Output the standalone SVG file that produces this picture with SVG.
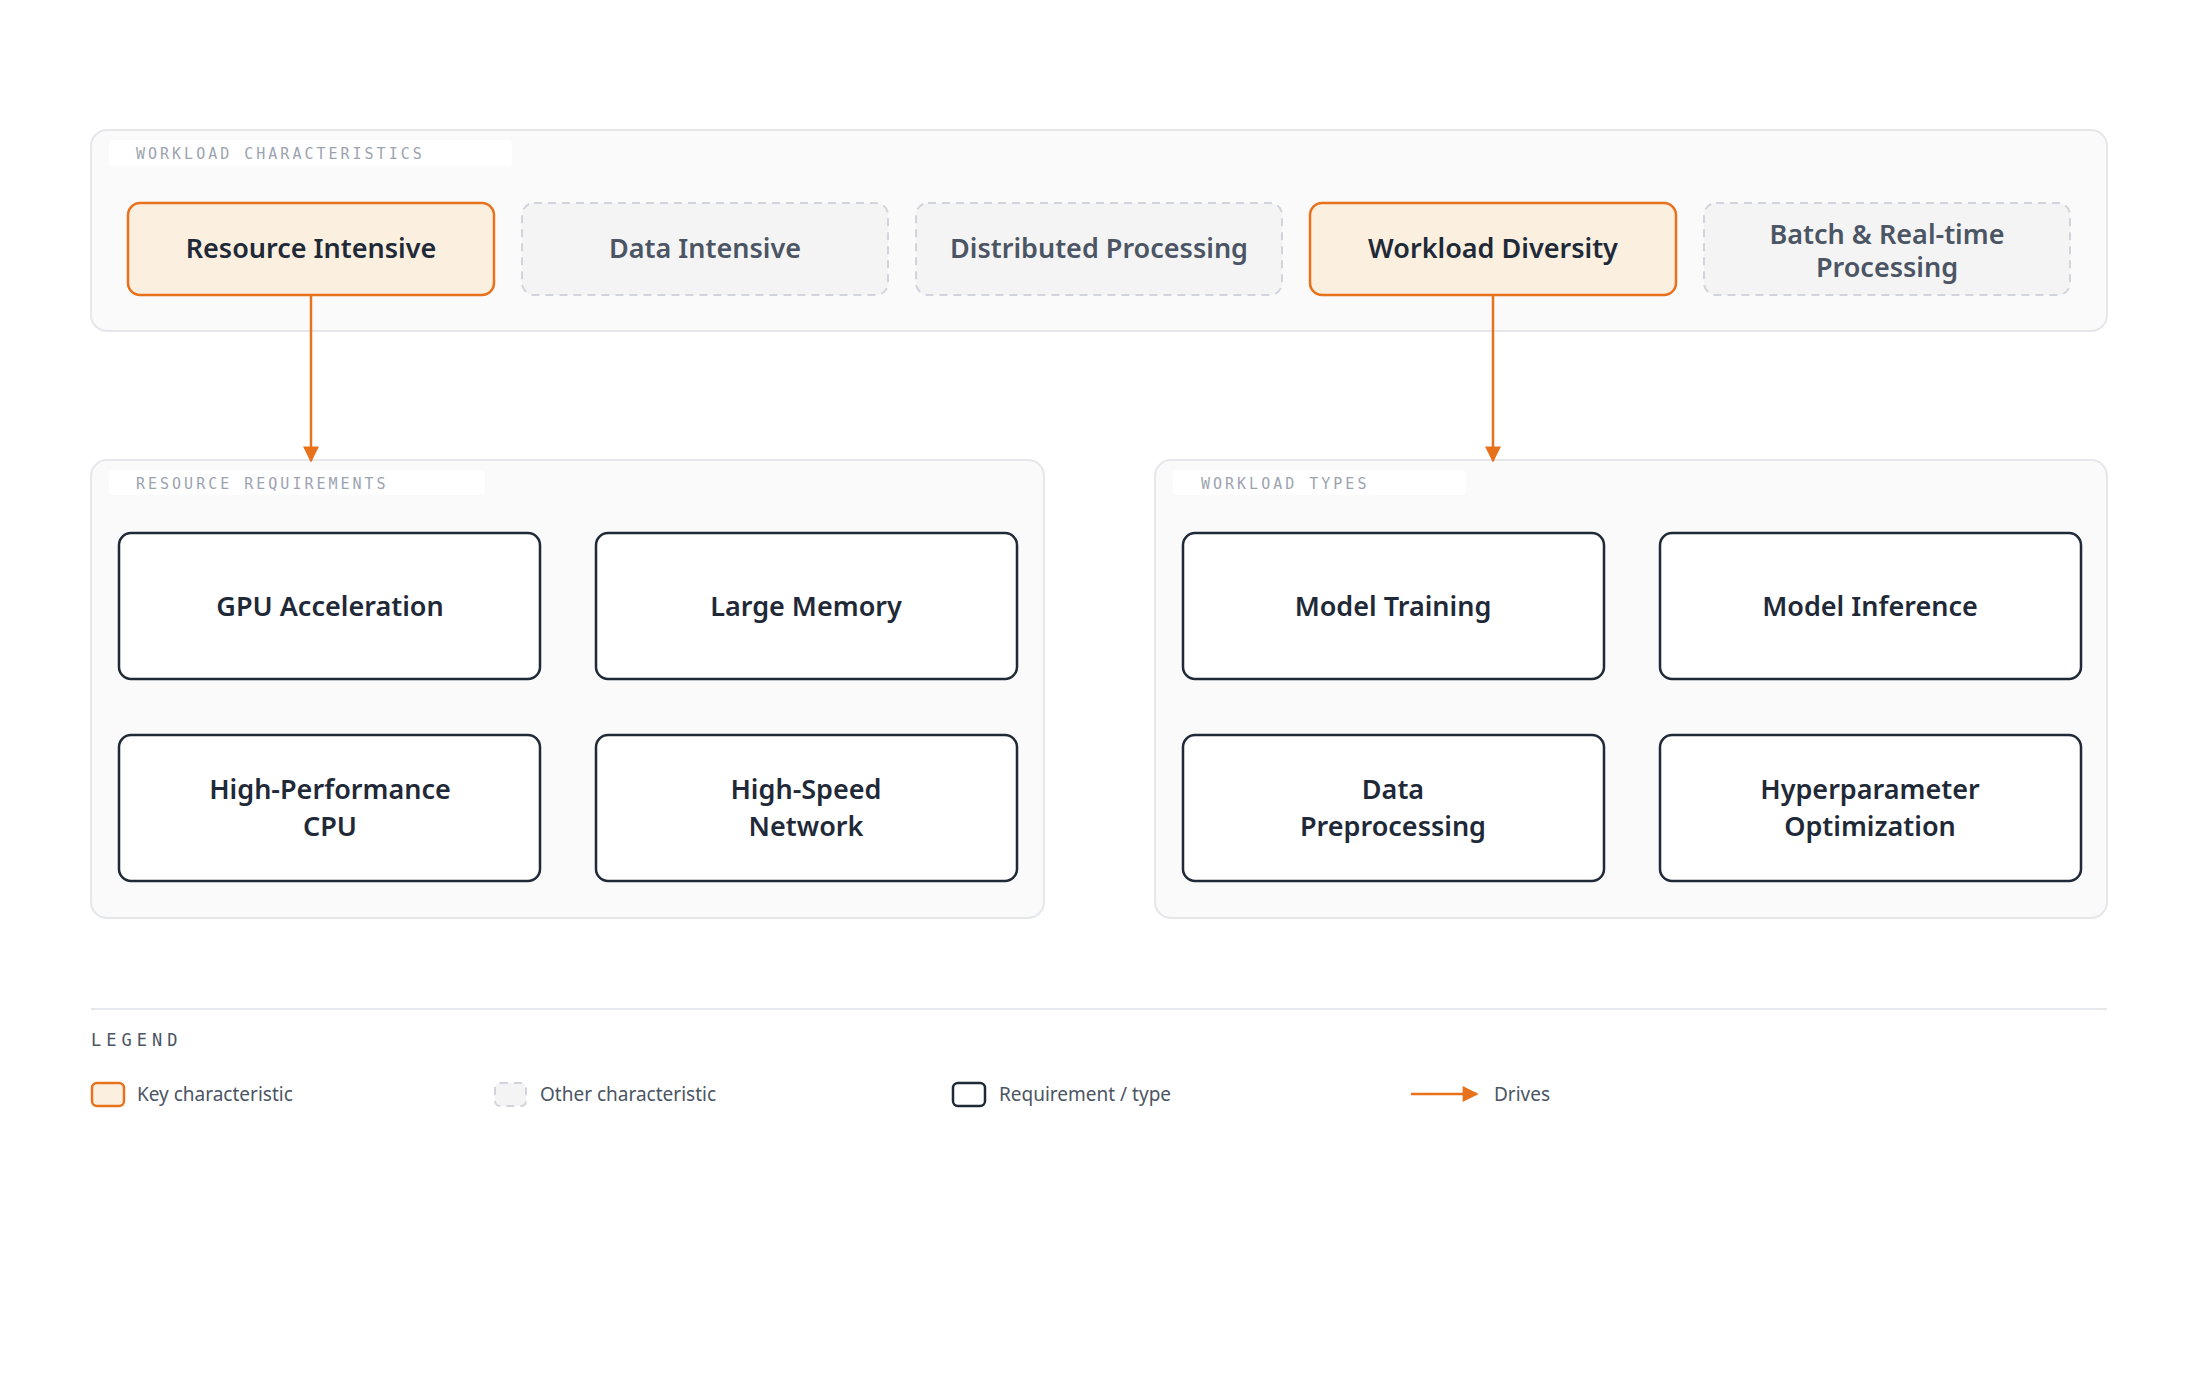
<svg xmlns="http://www.w3.org/2000/svg" width="2200" height="1378" viewBox="0 0 2200 1378">
<defs>
<marker id="ah" viewBox="0 0 10 10" refX="9" refY="5" markerWidth="20" markerHeight="16" markerUnits="userSpaceOnUse" orient="auto"><path d="M0,0 L10,5 L0,10 z" fill="#e8711c"/></marker>
<style>
.cont{fill:#fafafa;stroke:#e5e7eb;stroke-width:2}
.chip{fill:#ffffff}
.sec{font-family:"DejaVu Sans Mono","Liberation Mono",monospace;font-size:15px;letter-spacing:3px;fill:#9ca3af}
.key{fill:#fbf0e0;stroke:#e8711c;stroke-width:2.5}
.oth{fill:#f4f4f5;stroke:#d1d5db;stroke-width:2;stroke-dasharray:8 6}
.req{fill:#ffffff;stroke:#1f2937;stroke-width:2.5}
.t{font-family:"Noto Sans","Open Sans",sans-serif;font-size:27px;font-weight:600;text-anchor:middle}
.dk{fill:#1f2937}
.gy{fill:#4b5563}
.lg{font-family:"Noto Sans","Open Sans",sans-serif;font-size:19px;fill:#4b5563}
.conn{stroke:#e8711c;stroke-width:2.5;fill:none}
</style>
</defs>
<rect width="2200" height="1378" fill="#ffffff"/>
<g id="workload-characteristics">
<rect class="cont" x="91" y="130" width="2016" height="201" rx="16"/>
<rect class="chip" x="109" y="140" width="403" height="26" rx="4"/>
<text class="sec" x="136" y="159">WORKLOAD CHARACTERISTICS</text>
</g>
<g id="resource-intensive"><rect class="key" x="128" y="203" width="366" height="92" rx="12"/><text class="t dk" x="311" y="258">Resource Intensive</text></g>
<g id="data-intensive"><rect class="oth" x="522" y="203" width="366" height="92" rx="12"/><text class="t gy" x="705" y="258">Data Intensive</text></g>
<g id="distributed-processing"><rect class="oth" x="916" y="203" width="366" height="92" rx="12"/><text class="t gy" x="1099" y="258">Distributed Processing</text></g>
<g id="workload-diversity"><rect class="key" x="1310" y="203" width="366" height="92" rx="12"/><text class="t dk" x="1493" y="258">Workload Diversity</text></g>
<g id="batch-realtime"><rect class="oth" x="1704" y="203" width="366" height="92" rx="12"/><text class="t gy" x="1887" y="244">Batch &amp; Real-time</text><text class="t gy" x="1887" y="277">Processing</text></g>

<g id="resource-requirements">
<rect class="cont" x="91" y="460" width="953" height="458" rx="16"/>
<rect class="chip" x="109" y="470" width="376" height="25" rx="4"/>
<text class="sec" x="136" y="489">RESOURCE REQUIREMENTS</text>
</g>
<g id="workload-types">
<rect class="cont" x="1155" y="460" width="952" height="458" rx="16"/>
<rect class="chip" x="1173" y="470" width="293" height="25" rx="4"/>
<text class="sec" x="1201" y="489">WORKLOAD TYPES</text>
</g>
<g id="gpu"><rect class="req" x="119" y="533" width="421" height="146" rx="12"/><text class="t dk" x="330" y="616">GPU Acceleration</text></g>
<g id="memory"><rect class="req" x="596" y="533" width="421" height="146" rx="12"/><text class="t dk" x="806" y="616">Large Memory</text></g>
<g id="cpu"><rect class="req" x="119" y="735" width="421" height="146" rx="12"/><text class="t dk" x="330" y="799">High-Performance</text><text class="t dk" x="330" y="836">CPU</text></g>
<g id="network"><rect class="req" x="596" y="735" width="421" height="146" rx="12"/><text class="t dk" x="806" y="799">High-Speed</text><text class="t dk" x="806" y="836">Network</text></g>
<g id="training"><rect class="req" x="1183" y="533" width="421" height="146" rx="12"/><text class="t dk" x="1393" y="616">Model Training</text></g>
<g id="inference"><rect class="req" x="1660" y="533" width="421" height="146" rx="12"/><text class="t dk" x="1870" y="616">Model Inference</text></g>
<g id="preprocessing"><rect class="req" x="1183" y="735" width="421" height="146" rx="12"/><text class="t dk" x="1393" y="799">Data</text><text class="t dk" x="1393" y="836">Preprocessing</text></g>
<g id="hpo"><rect class="req" x="1660" y="735" width="421" height="146" rx="12"/><text class="t dk" x="1870" y="799">Hyperparameter</text><text class="t dk" x="1870" y="836">Optimization</text></g>

<g id="connectors">
<line class="conn" x1="311" y1="296" x2="311" y2="461" marker-end="url(#ah)"/>
<line class="conn" x1="1493" y1="296" x2="1493" y2="461" marker-end="url(#ah)"/>
</g>

<g id="legend">
<line x1="91" y1="1009" x2="2107" y2="1009" stroke="#e5e7eb" stroke-width="2"/>
<text x="91" y="1046" font-family="DejaVu Sans Mono, Liberation Mono, monospace" font-size="17" letter-spacing="5" fill="#4b5563">LEGEND</text>
<rect class="key" x="92" y="1083" width="32" height="23" rx="5"/>
<text class="lg" x="137" y="1101">Key characteristic</text>
<rect class="oth" x="495" y="1083" width="31" height="23" rx="5" stroke-dasharray="6 5"/>
<text class="lg" x="540" y="1101">Other characteristic</text>
<rect class="req" x="953" y="1083" width="32" height="23" rx="5"/>
<text class="lg" x="999" y="1101">Requirement / type</text>
<line class="conn" x1="1411" y1="1094" x2="1477" y2="1094" marker-end="url(#ah)"/>
<text class="lg" x="1494" y="1101">Drives</text>
</g>
</svg>
